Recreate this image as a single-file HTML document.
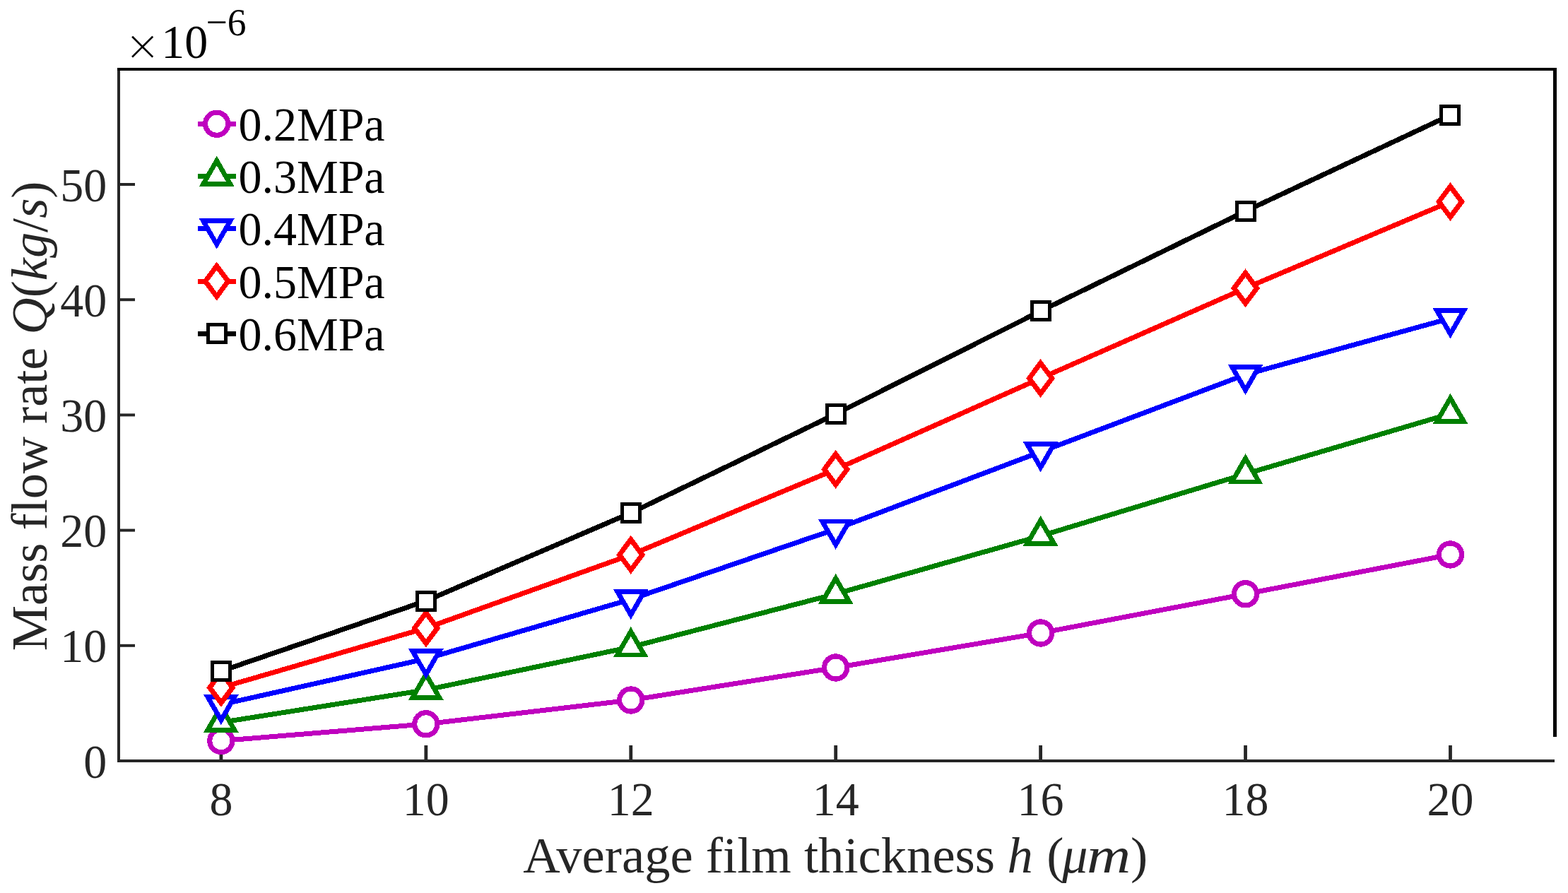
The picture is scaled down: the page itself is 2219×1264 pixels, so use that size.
<!DOCTYPE html>
<html><head><meta charset="utf-8"><title>Mass flow rate vs film thickness</title>
<style>
html,body{margin:0;padding:0;background:#fff;}
body{width:2219px;height:1264px;overflow:hidden;}
svg{display:block;}
text{font-family:"Liberation Serif","Times New Roman",serif;}
.t{font-size:66px;fill:#262626;}
.lg{font-size:66px;fill:#000;}
.al{font-size:72.6px;fill:#262626;}
.mul{font-size:66px;fill:#000;}
.mx{font-size:81px;fill:#000;stroke:#fff;stroke-width:1.3px;}
.sup{font-size:53.5px;fill:#000;}
</style></head>
<body>
<svg width="2219" height="1264" viewBox="0 0 2219 1264">
<rect width="2219" height="1264" fill="#fff"/>
<rect x="166" y="96" width="4" height="983" fill="#262626"/>
<rect x="166" y="1075" width="2034" height="4" fill="#262626"/>
<rect x="166" y="96" width="2037" height="4" fill="#000"/>
<rect x="2198" y="96" width="5" height="947" fill="#000"/>
<rect x="170" y="911.80" width="21" height="4" fill="#262626"/>
<rect x="170" y="748.60" width="21" height="4" fill="#262626"/>
<rect x="170" y="585.40" width="21" height="4" fill="#262626"/>
<rect x="170" y="422.20" width="21" height="4" fill="#262626"/>
<rect x="170" y="259.00" width="21" height="4" fill="#262626"/>
<rect x="310.50" y="1055" width="4.8" height="20" fill="#262626"/>
<rect x="600.43" y="1055" width="4.8" height="20" fill="#262626"/>
<rect x="890.36" y="1055" width="4.8" height="20" fill="#262626"/>
<rect x="1180.29" y="1055" width="4.8" height="20" fill="#262626"/>
<rect x="1470.22" y="1055" width="4.8" height="20" fill="#262626"/>
<rect x="1760.15" y="1055" width="4.8" height="20" fill="#262626"/>
<rect x="2050.08" y="1055" width="4.8" height="20" fill="#262626"/>
<text transform="translate(151.30 1100.50) scale(1 1.035)" text-anchor="end" class="t">0</text>
<text transform="translate(151.30 937.30) scale(1 1.035)" text-anchor="end" class="t">10</text>
<text transform="translate(151.30 774.10) scale(1 1.035)" text-anchor="end" class="t">20</text>
<text transform="translate(151.30 610.90) scale(1 1.035)" text-anchor="end" class="t">30</text>
<text transform="translate(151.30 447.70) scale(1 1.035)" text-anchor="end" class="t">40</text>
<text transform="translate(151.30 284.50) scale(1 1.035)" text-anchor="end" class="t">50</text>
<text transform="translate(312.90 1154.00) scale(1 1.035)" text-anchor="middle" class="t">8</text>
<text transform="translate(602.83 1154.00) scale(1 1.035)" text-anchor="middle" class="t">10</text>
<text transform="translate(892.76 1154.00) scale(1 1.035)" text-anchor="middle" class="t">12</text>
<text transform="translate(1182.69 1154.00) scale(1 1.035)" text-anchor="middle" class="t">14</text>
<text transform="translate(1472.62 1154.00) scale(1 1.035)" text-anchor="middle" class="t">16</text>
<text transform="translate(1762.55 1154.00) scale(1 1.035)" text-anchor="middle" class="t">18</text>
<text transform="translate(2052.48 1154.00) scale(1 1.035)" text-anchor="middle" class="t">20</text>
<g shape-rendering="crispEdges">
<polyline points="312.90,1048.60 602.83,1024.80 892.76,991.00 1182.69,945.00 1472.62,896.00 1762.55,840.80 2052.48,785.00" fill="none" stroke="#BF00BF" stroke-width="7.0" stroke-linejoin="round"/>
<circle cx="312.90" cy="1048.60" r="16.1" fill="#fff" stroke="#BF00BF" stroke-width="7.2"/>
<circle cx="602.83" cy="1024.80" r="16.1" fill="#fff" stroke="#BF00BF" stroke-width="7.2"/>
<circle cx="892.76" cy="991.00" r="16.1" fill="#fff" stroke="#BF00BF" stroke-width="7.2"/>
<circle cx="1182.69" cy="945.00" r="16.1" fill="#fff" stroke="#BF00BF" stroke-width="7.2"/>
<circle cx="1472.62" cy="896.00" r="16.1" fill="#fff" stroke="#BF00BF" stroke-width="7.2"/>
<circle cx="1762.55" cy="840.80" r="16.1" fill="#fff" stroke="#BF00BF" stroke-width="7.2"/>
<circle cx="2052.48" cy="785.00" r="16.1" fill="#fff" stroke="#BF00BF" stroke-width="7.2"/>
<polyline points="312.90,1022.50 602.83,976.60 892.76,915.90 1182.69,840.70 1472.62,758.60 1762.55,670.90 2052.48,585.60" fill="none" stroke="#008000" stroke-width="7.0" stroke-linejoin="round"/>
<path d="M312.90 1000.43L332.00 1033.53L293.80 1033.53Z" fill="#fff" stroke="#008000" stroke-width="6.8" stroke-linejoin="miter"/>
<path d="M602.83 954.53L621.93 987.63L583.73 987.63Z" fill="#fff" stroke="#008000" stroke-width="6.8" stroke-linejoin="miter"/>
<path d="M892.76 893.83L911.86 926.93L873.66 926.93Z" fill="#fff" stroke="#008000" stroke-width="6.8" stroke-linejoin="miter"/>
<path d="M1182.69 818.63L1201.79 851.73L1163.59 851.73Z" fill="#fff" stroke="#008000" stroke-width="6.8" stroke-linejoin="miter"/>
<path d="M1472.62 736.53L1491.72 769.63L1453.52 769.63Z" fill="#fff" stroke="#008000" stroke-width="6.8" stroke-linejoin="miter"/>
<path d="M1762.55 648.83L1781.65 681.93L1743.45 681.93Z" fill="#fff" stroke="#008000" stroke-width="6.8" stroke-linejoin="miter"/>
<path d="M2052.48 563.53L2071.58 596.63L2033.38 596.63Z" fill="#fff" stroke="#008000" stroke-width="6.8" stroke-linejoin="miter"/>
<polyline points="312.90,997.30 602.83,932.50 892.76,848.30 1182.69,749.00 1472.62,639.60 1762.55,530.20 2052.48,450.60" fill="none" stroke="#0000FF" stroke-width="7.0" stroke-linejoin="round"/>
<path d="M312.90 1019.37L332.00 986.27L293.80 986.27Z" fill="#fff" stroke="#0000FF" stroke-width="6.8" stroke-linejoin="miter"/>
<path d="M602.83 954.57L621.93 921.47L583.73 921.47Z" fill="#fff" stroke="#0000FF" stroke-width="6.8" stroke-linejoin="miter"/>
<path d="M892.76 870.37L911.86 837.27L873.66 837.27Z" fill="#fff" stroke="#0000FF" stroke-width="6.8" stroke-linejoin="miter"/>
<path d="M1182.69 771.07L1201.79 737.97L1163.59 737.97Z" fill="#fff" stroke="#0000FF" stroke-width="6.8" stroke-linejoin="miter"/>
<path d="M1472.62 661.67L1491.72 628.57L1453.52 628.57Z" fill="#fff" stroke="#0000FF" stroke-width="6.8" stroke-linejoin="miter"/>
<path d="M1762.55 552.27L1781.65 519.17L1743.45 519.17Z" fill="#fff" stroke="#0000FF" stroke-width="6.8" stroke-linejoin="miter"/>
<path d="M2052.48 472.67L2071.58 439.57L2033.38 439.57Z" fill="#fff" stroke="#0000FF" stroke-width="6.8" stroke-linejoin="miter"/>
<polyline points="312.90,973.30 602.83,889.00 892.76,785.30 1182.69,664.40 1472.62,535.50 1762.55,407.90 2052.48,285.50" fill="none" stroke="#FF0000" stroke-width="7.0" stroke-linejoin="round"/>
<path d="M312.90 951.70L329.05 973.30L312.90 994.90L296.75 973.30Z" fill="#fff" stroke="#FF0000" stroke-width="7.1" stroke-linejoin="miter"/>
<path d="M602.83 867.40L618.98 889.00L602.83 910.60L586.68 889.00Z" fill="#fff" stroke="#FF0000" stroke-width="7.1" stroke-linejoin="miter"/>
<path d="M892.76 763.70L908.91 785.30L892.76 806.90L876.61 785.30Z" fill="#fff" stroke="#FF0000" stroke-width="7.1" stroke-linejoin="miter"/>
<path d="M1182.69 642.80L1198.84 664.40L1182.69 686.00L1166.54 664.40Z" fill="#fff" stroke="#FF0000" stroke-width="7.1" stroke-linejoin="miter"/>
<path d="M1472.62 513.90L1488.77 535.50L1472.62 557.10L1456.47 535.50Z" fill="#fff" stroke="#FF0000" stroke-width="7.1" stroke-linejoin="miter"/>
<path d="M1762.55 386.30L1778.70 407.90L1762.55 429.50L1746.40 407.90Z" fill="#fff" stroke="#FF0000" stroke-width="7.1" stroke-linejoin="miter"/>
<path d="M2052.48 263.90L2068.63 285.50L2052.48 307.10L2036.33 285.50Z" fill="#fff" stroke="#FF0000" stroke-width="7.1" stroke-linejoin="miter"/>
<polyline points="312.90,950.00 602.83,850.50 892.76,726.00 1182.69,586.00 1472.62,440.30 1762.55,298.90 2052.48,163.00" fill="none" stroke="#000000" stroke-width="7.0" stroke-linejoin="round"/>
<rect x="300.40" y="937.50" width="25.0" height="25.0" fill="#fff" stroke="#000000" stroke-width="5"/>
<rect x="590.33" y="838.00" width="25.0" height="25.0" fill="#fff" stroke="#000000" stroke-width="5"/>
<rect x="880.26" y="713.50" width="25.0" height="25.0" fill="#fff" stroke="#000000" stroke-width="5"/>
<rect x="1170.19" y="573.50" width="25.0" height="25.0" fill="#fff" stroke="#000000" stroke-width="5"/>
<rect x="1460.12" y="427.80" width="25.0" height="25.0" fill="#fff" stroke="#000000" stroke-width="5"/>
<rect x="1750.05" y="286.40" width="25.0" height="25.0" fill="#fff" stroke="#000000" stroke-width="5"/>
<rect x="2039.98" y="150.50" width="25.0" height="25.0" fill="#fff" stroke="#000000" stroke-width="5"/>
</g>
<g shape-rendering="crispEdges">
<line x1="279.5" y1="175.20" x2="334" y2="175.20" stroke="#BF00BF" stroke-width="7.0"/>
<circle cx="306.70" cy="175.20" r="16.1" fill="#fff" stroke="#BF00BF" stroke-width="7.2"/>
</g>
<text transform="translate(337.50 198.80) scale(1 1.02)" class="lg">0.2MPa</text>
<g shape-rendering="crispEdges">
<line x1="279.5" y1="249.50" x2="334" y2="249.50" stroke="#008000" stroke-width="7.0"/>
<path d="M306.70 227.43L325.80 260.53L287.60 260.53Z" fill="#fff" stroke="#008000" stroke-width="6.8" stroke-linejoin="miter"/>
</g>
<text transform="translate(337.50 273.10) scale(1 1.02)" class="lg">0.3MPa</text>
<g shape-rendering="crispEdges">
<line x1="279.5" y1="323.80" x2="334" y2="323.80" stroke="#0000FF" stroke-width="7.0"/>
<path d="M306.70 345.87L325.80 312.77L287.60 312.77Z" fill="#fff" stroke="#0000FF" stroke-width="6.8" stroke-linejoin="miter"/>
</g>
<text transform="translate(337.50 347.40) scale(1 1.02)" class="lg">0.4MPa</text>
<g shape-rendering="crispEdges">
<line x1="279.5" y1="398.10" x2="334" y2="398.10" stroke="#FF0000" stroke-width="7.0"/>
<path d="M306.70 376.50L322.85 398.10L306.70 419.70L290.55 398.10Z" fill="#fff" stroke="#FF0000" stroke-width="7.1" stroke-linejoin="miter"/>
</g>
<text transform="translate(337.50 421.70) scale(1 1.02)" class="lg">0.5MPa</text>
<g shape-rendering="crispEdges">
<line x1="279.5" y1="472.40" x2="334" y2="472.40" stroke="#000000" stroke-width="7.0"/>
<rect x="294.20" y="459.90" width="25.0" height="25.0" fill="#fff" stroke="#000000" stroke-width="5"/>
</g>
<text transform="translate(337.50 496.00) scale(1 1.02)" class="lg">0.6MPa</text>
<text transform="translate(740.20 1234.50)" class="al">Average film thickness</text>
<text transform="translate(1425.40 1234.50)" class="al" style="font-style:italic">h</text>
<text transform="translate(1481.20 1234.50)" class="al">(</text>
<text transform="translate(1502.90 1234.50)" class="al" style="font-style:italic">μ</text>
<text transform="translate(1538.00 1234.5) scale(1.187 1)" class="al" style="font-style:italic">m</text>
<text transform="translate(1600.00 1234.50)" class="al">)</text>
<text transform="translate(65.50 588.90) rotate(-90)" text-anchor="middle" class="al" style="font-size:72.3px">Mass flow rate <tspan font-style="italic">Q</tspan>(<tspan font-style="italic">kg</tspan>/<tspan font-style="italic">s</tspan>)</text>
<text transform="translate(178.70 92.60)" class="mx">×</text>
<text transform="translate(228.20 82.00) scale(1 1.035)" class="mul">10</text>
<text transform="translate(291.50 50.00) scale(1 1.035)" class="sup">−6</text>
</svg>
</body></html>
